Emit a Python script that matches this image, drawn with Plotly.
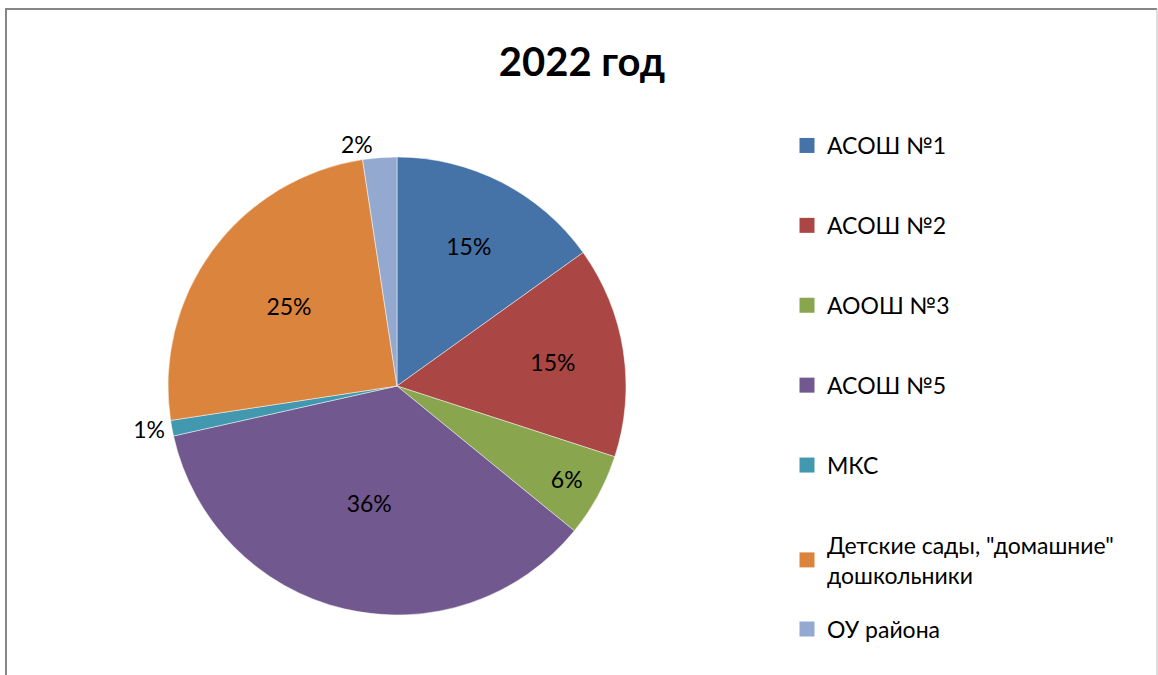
import plotly.graph_objects as go

# slice shares (percent of total)
labels = ["АСОШ №1", "АСОШ №2", "АООШ №3", "АСОШ №5", "МКС",
          "Детские сады, \"домашние\"<br>дошкольники", "ОУ района"]
values = [15.1, 14.9, 5.9, 35.6, 1.1, 25.0, 2.4]
colors = ["#4572A7", "#AA4643", "#89A54E", "#71588F", "#4198AF", "#DB843D", "#93A9CF"]
text_pos = ["inside", "inside", "inside", "inside", "outside", "inside", "outside"]
# the last legend entry sits closer to the two-line one above it, so it gets its own legend box
legend_ids = ["legend"] * 6 + ["legend2"]

W, H = 1158, 675
FONT = "Lato, 'Open Sans', sans-serif"
FS = 23

fig = go.Figure()

fig.add_trace(go.Pie(
    labels=labels,
    values=values,
    sort=False,
    direction="clockwise",
    rotation=0,
    marker=dict(colors=colors, line=dict(color="rgba(255,255,255,0.6)", width=0.8)),
    texttemplate="%{percent:.0%}",
    textposition=text_pos,
    insidetextorientation="horizontal",
    textfont=dict(color="black", size=FS, family=FONT),
    showlegend=False,
    domain=dict(x=[168 / W, 626 / W], y=[(H - 615) / H, (H - 157) / H]),
))

# legend entries (square swatches), one per category
for i, (lab, col, lg) in enumerate(zip(labels, colors, legend_ids)):
    fig.add_trace(go.Scatter(
        x=[None], y=[None], mode="markers", name=lab, legendgroup=f"g{i}",
        legend=lg, marker=dict(symbol="square", size=15, color=col),
    ))

legend_style = dict(
    font=dict(size=FS, color="black", family=FONT),
    itemsizing="trace", bgcolor="rgba(0,0,0,0)",
)

fig.update_layout(
    width=W, height=H,
    margin=dict(l=0, r=0, t=0, b=0),
    paper_bgcolor="white",
    plot_bgcolor="white",
    title=dict(text="<b>2022 год</b>", x=582 / W, xanchor="center",
               y=(H - 62) / H, yanchor="middle",
               font=dict(size=40, color="black", family=FONT)),
    xaxis=dict(visible=False),
    yaxis=dict(visible=False),
    legend=dict(x=787 / W, xanchor="left", y=(H - 124) / H, yanchor="top",
                tracegroupgap=47, **legend_style),
    legend2=dict(x=787 / W, xanchor="left", y=(H - 629) / H, yanchor="middle",
                 **legend_style),
    shapes=[
        dict(type="line", xref="paper", yref="paper", x0=6 / W, x1=6 / W,
             y0=-0.05, y1=(H - 9) / H, line=dict(color="#868686", width=2)),
        dict(type="line", xref="paper", yref="paper", x0=5 / W, x1=1157 / W,
             y0=(H - 9) / H, y1=(H - 9) / H, line=dict(color="#868686", width=2)),
        dict(type="line", xref="paper", yref="paper", x0=1157 / W, x1=1157 / W,
             y0=-0.05, y1=(H - 9) / H, line=dict(color="#bdbdbd", width=1)),
    ],
)

fig.write_html("out.html", config={"displayModeBar": False},
               post_script="document.body.style.margin='0';")
